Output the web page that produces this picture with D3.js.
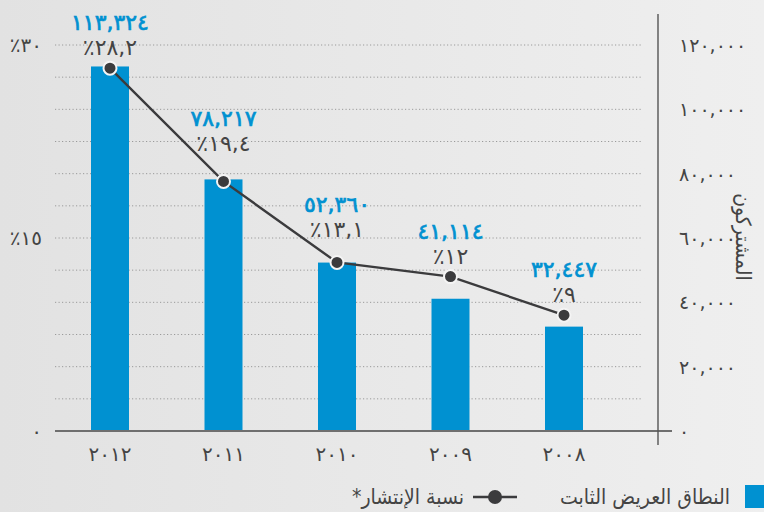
<!DOCTYPE html>
<html><head><meta charset="utf-8">
<script src="https://cdn.jsdelivr.net/npm/d3@7"></script>
<style>
html,body{margin:0;padding:0;background:#e8e8e8;}
svg{display:block;}
text{font-family:"DejaVu Sans",sans-serif;}
text.cond{font-family:"DejaVu Sans Condensed","DejaVu Sans",sans-serif;}
</style></head>
<body><svg id="c" width="764" height="512"></svg>
<script>
// ---- data ----
const years = [2008, 2009, 2010, 2011, 2012];
const subscribers = [32447, 41114, 52360, 78217, 113324];
const penetration = [9, 12, 13.1, 19.4, 28.2];
const subscriberTicks = [0, 20000, 40000, 60000, 80000, 100000, 120000];
const percentTicks = [0, 15, 30];
const seriesNames = ["النطاق العريض الثابت", "نسبة الإنتشار*"];
const axisTitle = "المشتركون";

// ---- helpers ----
const ar = s => String(s).replace(/[0-9]/g, d => "٠١٢٣٤٥٦٧٨٩"[+d]);
const fmtNum = v => ar(d3.format(",")(v));
const fmtPct = v => "٪" + ar(String(v).replace(".", ","));

const svg = d3.select("#c");
const W = 764, H = 512;
const blue = "#0091d1", dark = "#3b3b3d", textCol = "#444";

const defs = svg.append("defs");
const g0 = defs.append("linearGradient").attr("id","bg").attr("x1","0").attr("x2","1").attr("y1","0").attr("y2","0");
g0.append("stop").attr("offset","0").attr("stop-color","#e2e2e2");
g0.append("stop").attr("offset","1").attr("stop-color","#efefef");
svg.append("rect").attr("width",W).attr("height",H).attr("fill","url(#bg)");

// ---- scales ----
const x = d3.scalePoint().domain(years).range([564, 110]);
const barW = 38;
const yN = d3.scaleLinear().domain([0, 120000]).range([431, 45]);
const yP = d3.scaleLinear().domain([0, 30]).range([431, 45]);
const plotL = 55, plotR = 642;

// gridlines
const gridVals = d3.range(10000, 120001, 10000);
svg.append("g").selectAll("line").data(gridVals).join("line")
  .attr("x1", plotL).attr("x2", plotR)
  .attr("y1", d => yN(d)).attr("y2", d => yN(d))
  .attr("stroke", "#9a9a9a").attr("stroke-width", 1).attr("stroke-dasharray", "1.2,2.3");

// bars
svg.append("g").selectAll("rect").data(years).join("rect")
  .attr("x", d => x(d) - barW/2).attr("width", barW)
  .attr("y", (d,i) => yN(subscribers[i]))
  .attr("height", (d,i) => yN(0) - yN(subscribers[i]))
  .attr("fill", blue);

// baseline
svg.append("line").attr("x1", plotL).attr("x2", 672).attr("y1", yN(0)).attr("y2", yN(0))
  .attr("stroke", "#6f6f6f").attr("stroke-width", 2);
// right axis line
svg.append("line").attr("x1", 658).attr("x2", 658).attr("y1", 14).attr("y2", 445)
  .attr("stroke", "#555").attr("stroke-width", 1.4);

// line series
const line = d3.line().x(d => x(d.y)).y(d => yP(d.p));
const pts = years.map((y,i) => ({y, p: penetration[i], n: subscribers[i]}));
svg.append("path").datum(pts).attr("d", line)
  .attr("fill","none").attr("stroke", dark).attr("stroke-width", 2.4);
svg.append("g").selectAll("circle").data(pts).join("circle")
  .attr("cx", d => x(d.y)).attr("cy", d => yP(d.p)).attr("r", 6.5)
  .attr("fill", dark).attr("stroke", "#f4f4f4").attr("stroke-width", 2);

// value labels
const labelLift = {2011: 17, 2010: 12};
const lg = svg.append("g").attr("text-anchor","middle");
lg.selectAll("text.pct").data(pts).join("text").attr("class","pct")
  .attr("x", d => x(d.y))
  .attr("y", d => yP(d.p) - 13 - (labelLift[d.y] || 0))
  .attr("font-size", 22).attr("fill", textCol)
  .text(d => fmtPct(d.p));
lg.selectAll("text.num").data(pts).join("text").attr("class","num")
  .attr("x", d => x(d.y))
  .attr("y", d => yP(d.p) - 38 - (labelLift[d.y] || 0))
  .attr("font-size", 22).attr("letter-spacing", -0.8)
  .attr("fill", blue).attr("stroke", blue).attr("stroke-width", 0.7)
  .text(d => fmtNum(d.n));

// x axis labels
svg.append("g").attr("text-anchor","middle").selectAll("text").data(years).join("text")
  .attr("x", d => x(d)).attr("y", 461)
  .attr("font-size", 20).attr("letter-spacing", -0.6).attr("fill", textCol)
  .text(d => ar(d));

// left axis labels
svg.append("g").attr("text-anchor","end").selectAll("text").data(percentTicks).join("text")
  .attr("x", 42).attr("y", d => yP(d) + 7)
  .attr("font-size", 20).attr("fill", textCol)
  .text(d => d === 0 ? ar(0) : "٪" + ar(d));

// right axis labels
svg.append("g").attr("text-anchor","start").selectAll("text").data(subscriberTicks).join("text")
  .attr("x", 679).attr("y", d => yN(d) + 7)
  .attr("font-size", 19).attr("letter-spacing", -0.9).attr("fill", textCol)
  .text(d => fmtNum(d));

// axis title
svg.append("text").attr("class","cond").attr("transform", "translate(736,237) rotate(90)")
  .attr("text-anchor","middle").attr("font-size", 21).attr("fill", textCol)
  .text(axisTitle);

// legend
svg.append("rect").attr("x", 745).attr("y", 485).attr("width", 24).attr("height", 23).attr("fill", blue);
svg.append("text").attr("class","cond").attr("x", 645).attr("y", 504).attr("text-anchor","middle").attr("direction","rtl")
  .attr("font-size", 21).attr("fill", textCol).text(seriesNames[0]);
svg.append("line").attr("x1", 473).attr("x2", 517).attr("y1", 497).attr("y2", 497)
  .attr("stroke", dark).attr("stroke-width", 2.4);
svg.append("circle").attr("cx", 495).attr("cy", 497).attr("r", 7).attr("fill", dark);
svg.append("text").attr("class","cond").attr("x", 408).attr("y", 504).attr("text-anchor","middle").attr("direction","rtl")
  .attr("font-size", 21).attr("fill", textCol).text(seriesNames[1]);
</script></body></html>
